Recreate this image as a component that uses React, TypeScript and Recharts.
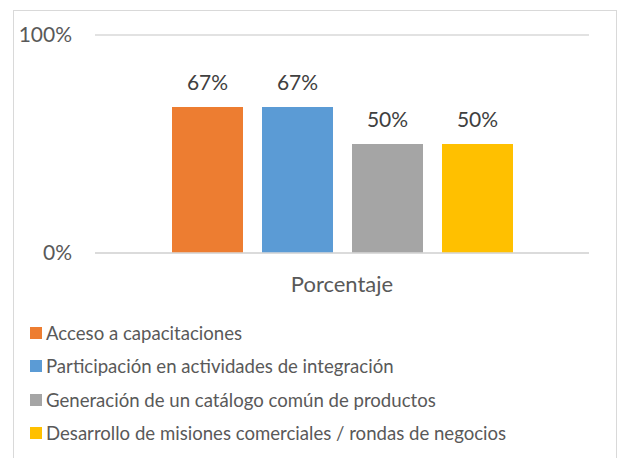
import React from "react";
import { BarChart, Bar, XAxis, YAxis, CartesianGrid, Legend, LabelList } from "recharts";

const categories = ["Porcentaje"];
const seriesNames = [
  "Acceso a capacitaciones",
  "Participación en actividades de integración",
  "Generación de un catálogo común de productos",
  "Desarrollo de misiones comerciales / rondas de negocios",
];
const seriesValues = [67, 67, 50, 50];
const colors = ["#ED7D31", "#5B9BD5", "#A5A5A5", "#FFC000"];
const yTicks = [0, 100];

const FONT = "Lato, 'Liberation Sans', sans-serif";

const data = categories.map((name) => {
  const row: any = { name };
  seriesValues.forEach((v, i) => {
    row[`s${i}`] = v;
  });
  return row;
});

// legend keeps the series order instead of recharts' sorted payload
const renderLegend = () => (
  <div style={{ height: 134, fontFamily: FONT, fontSize: 18.6, color: "#595959" }}>
    {seriesNames.map((name, i) => (
      <div
        key={`leg-${i}`}
        style={{ height: 33.5, display: "flex", alignItems: "center", whiteSpace: "nowrap" }}
      >
        <span
          style={{
            display: "inline-block",
            width: 12,
            height: 12,
            background: colors[i],
            marginRight: 4,
          }}
        />
        <span>{name}</span>
      </div>
    ))}
  </div>
);

export default function App() {
  return (
    <div
      style={{
        position: "absolute",
        left: 0,
        top: 0,
        width: 621,
        height: 458,
        overflow: "hidden",
        background: "#fff",
      }}
    >
      <div
        style={{
          position: "absolute",
          left: 13,
          top: 10,
          width: 604,
          height: 470,
          border: "1px solid #d9d9d9",
          boxSizing: "border-box",
        }}
      />
      <div style={{ position: "absolute", left: 0, top: 0 }}>
        <BarChart
          width={621}
          height={458}
          data={data}
          margin={{ top: 35, right: 32, left: 0, bottom: 21 }}
          barCategoryGap={77}
          barGap={19}
        >
          <CartesianGrid vertical={false} stroke="#d9d9d9" strokeWidth={1.5} />
          <XAxis
            dataKey="name"
            height={50}
            tickLine={false}
            tickSize={6}
            tickMargin={17}
            axisLine={{ stroke: "#d9d9d9", strokeWidth: 1.5 }}
            tick={{ fill: "#595959", fontSize: 22, fontFamily: FONT }}
          />
          <YAxis
            width={95}
            domain={[0, 100]}
            ticks={yTicks}
            tickFormatter={(v: number) => `${v}%`}
            axisLine={false}
            tickLine={false}
            tickSize={6}
            tickMargin={17}
            tick={{ fill: "#595959", fontSize: 21, fontFamily: FONT }}
          />
          {seriesNames.map((name, i) => (
            <Bar
              key={name}
              dataKey={`s${i}`}
              name={name}
              fill={colors[i]}
              isAnimationActive={false}
            >
              <LabelList
                dataKey={`s${i}`}
                position="top"
                offset={17}
                fill="#404040"
                fontSize={21}
                fontFamily={FONT}
                formatter={(v: any) => `${v}%`}
              />
            </Bar>
          ))}
          <Legend
            layout="vertical"
            verticalAlign="bottom"
            align="center"
            wrapperStyle={{ left: 30, top: 316 }}
            content={renderLegend}
          />
        </BarChart>
      </div>
    </div>
  );
}
